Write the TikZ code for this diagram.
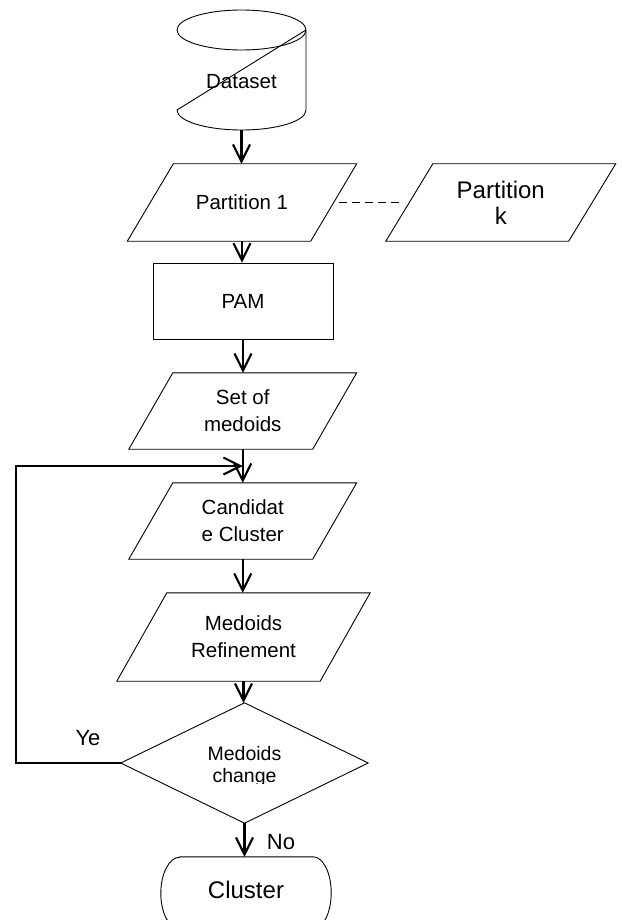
\documentclass[tikz,border=0pt]{standalone}
\usepackage{fontspec}
\setmainfont{Liberation Sans}
\usetikzlibrary{arrows.meta,calc}
\tikzset{
  shapeline/.style={draw=black, line width=0.9pt},
  txt/.style={inner sep=0pt, align=center, font=\fontsize{20.5}{27}\selectfont},
  bigtxt/.style={txt, font=\fontsize{24}{26}\selectfont},
  arr/.style={line width=2.1pt, -{Straight Barb[length=17pt,width=17pt]}},
  dashlink/.style={line width=1.6pt, dash pattern=on 8pt off 5pt},
}
\newcommand\paraoutline[2]{%
  \draw[shapeline] ([xshift=#2]#1.north west) -- ([xshift=#2]#1.north east)
    -- ([xshift=-#2]#1.south east) -- ([xshift=-#2]#1.south west) -- cycle;}
\begin{document}
\begin{tikzpicture}[x=1pt,y=-1pt]
\useasboundingbox (0,0) rectangle (621,920);
\clip (0,0) rectangle (621,920);

% Dataset cylinder
\node[txt] (ds) at (241.5,82) {Dataset};
\coordinate (dstop) at (241.5,30);
\coordinate (dsb) at (241.5,130);
\draw[shapeline] (dstop) ellipse [x radius=64.5pt, y radius=20pt];
\draw[shapeline] ([xshift=64.5pt]dstop) -- ++(0,80)
  arc[start angle=0, end angle=-180, x radius=64.5pt, y radius=20pt]
  -- ([xshift=64.5pt]dstop);

% Partitions
\node[txt, minimum width=183pt, minimum height=77pt] (p1) at (242,202.5) {Partition 1};
\paraoutline{p1}{23pt}
\node[bigtxt, minimum width=182.5pt, minimum height=77pt] (pk) at (500.75,202.5) {Partition\\k};
\paraoutline{pk}{23.5pt}

% PAM
\node[txt, shapeline, minimum width=180pt, minimum height=76pt] (pam) at (243,301) {PAM};

% Set of medoids
\node[txt, minimum width=183.5pt, minimum height=76pt] (som) at (242.75,411) {Set of\\medoids};
\paraoutline{som}{22pt}

% Candidate cluster
\node[txt, minimum width=183.5pt, minimum height=76pt] (cand) at (242.75,521) {Candidat\\e Cluster};
\paraoutline{cand}{22pt}

% Medoids refinement
\node[txt, minimum width=203pt, minimum height=88pt] (mr) at (243.5,637) {Medoids\\Refinement};
\paraoutline{mr}{25pt}

% Decision
\node[inner sep=0pt, minimum width=247pt, minimum height=120pt] (dia) at (244.5,763) {};
\draw[shapeline] (dia.north) -- (dia.east) -- (dia.south) -- (dia.west) -- cycle;
\begin{scope}
  \clip (100,700) rectangle (400,783);
  \node[txt, font=\fontsize{19.5}{22}\selectfont] (diat) at (244.5,766) {Medoids\\change};
\end{scope}

% Cluster terminal
\node[inner sep=0pt, minimum width=170pt, minimum height=72pt] (cl) at (246,893) {};
\draw[shapeline] ([xshift=19pt]cl.north west) -- ([xshift=-18pt]cl.north east)
  arc[start angle=90, end angle=-90, x radius=18pt, y radius=36pt]
  -- ([xshift=19pt]cl.south west)
  arc[start angle=270, end angle=90, x radius=19pt, y radius=36pt] -- cycle;
\node[bigtxt] (clt) at (246,890) {Cluster};

% Labels
\node[txt, font=\fontsize{22}{22}\selectfont] (ye) at (88,738) {Ye};
\node[txt, font=\fontsize{22}{22}\selectfont] (no) at (281,842) {No};

% Connectors
\draw[arr] (dsb) -- (dsb |- p1.north);
\draw[arr] (p1.south) -- (p1.south |- pam.north);
\draw[arr] (pam.south) -- (pam.south |- som.north);
\draw[arr] (som.south) -- (som.south |- cand.north);
\draw[arr] (cand.south) -- (cand.south |- mr.north);
\draw[arr] (mr.south) -- (mr.south |- dia.north);
\draw[arr] (dia.south) -- (dia.south |- cl.north);
\coordinate (fb) at ($(som.south)!0.5!(cand.north)$);
\draw[arr] (dia.west) -- ++(-105,0) |- (fb);
\draw[dashlink, shorten <=5pt, shorten >=8pt] (p1.east) -- (pk.west);
\end{tikzpicture}
\end{document}
